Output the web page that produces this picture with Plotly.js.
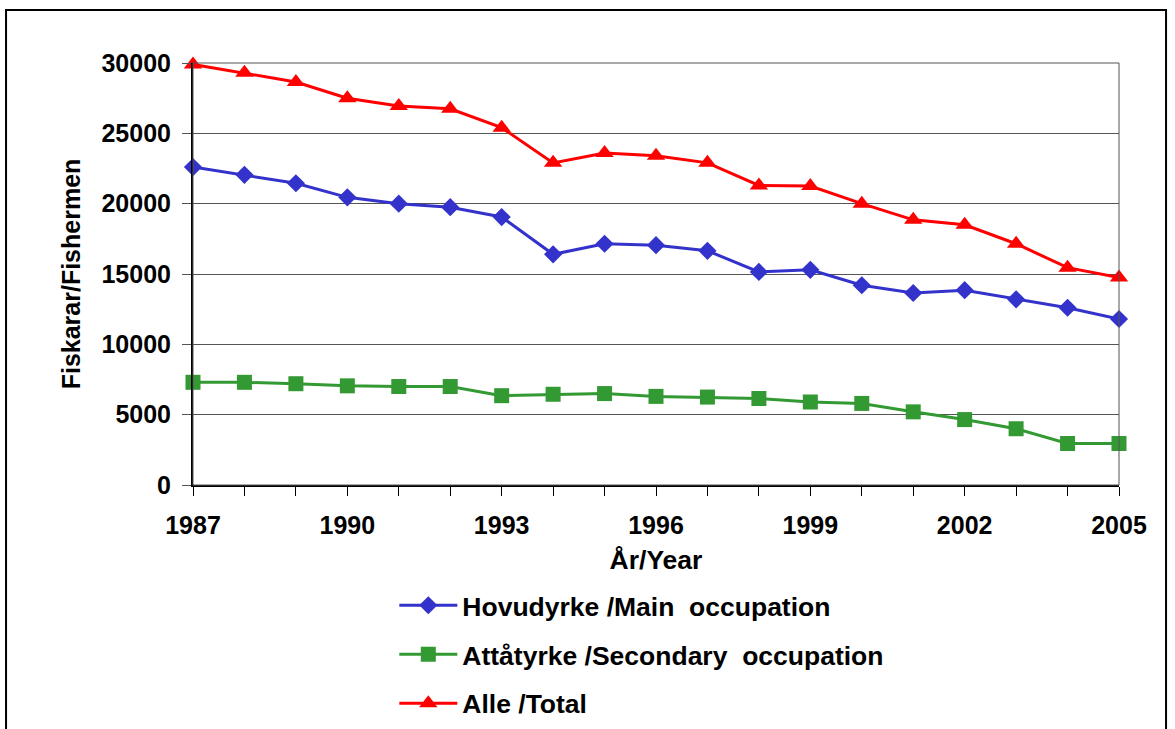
<!DOCTYPE html>
<html>
<head>
<meta charset="utf-8">
<script src="https://cdn.plot.ly/plotly-3.0.1.min.js"></script>
<style>html,body{margin:0;padding:0;background:#fff;}#chart{width:1175px;height:729px;}</style>
</head>
<body>
<div id="chart"></div>
<script>
const years = [1987,1988,1989,1990,1991,1992,1993,1994,1995,1996,1997,1998,1999,2000,2001,2002,2003,2004,2005];
const mainOccupation = [22600,22050,21450,20450,20000,19750,19050,16400,17150,17050,16650,15150,15300,14200,13650,13850,13200,12600,11800];
const secondaryOccupation = [7300,7300,7200,7050,7000,7000,6350,6450,6500,6300,6250,6150,5900,5800,5200,4650,4000,2950,2950];
const total = [29900,29300,28650,27500,26950,26750,25400,22900,23600,23400,22900,21300,21250,20000,18850,18500,17150,15450,14750];
const xTickVals = [1987,1990,1993,1996,1999,2002,2005];
const yTickVals = [0,5000,10000,15000,20000,25000,30000];

const fam = '"Liberation Sans", Arial, sans-serif';
const font = {family: fam, size: 25, color: '#000', weight: 'bold'};
const bigFont = {family: fam, size: 26.5, color: '#000', weight: 'bold'};

const traces = [
  {x: years, y: mainOccupation, name: 'Hovudyrke /Main \u00a0occupation', mode: 'lines+markers', legendgroup: 'a', cliponaxis: false,
   line: {color: '#3333CC', width: 3}, marker: {symbol: 'diamond', size: 14, color: '#3333CC'}},
  {x: years, y: secondaryOccupation, name: 'Attåtyrke /Secondary \u00a0occupation', mode: 'lines+markers', legendgroup: 'b', cliponaxis: false,
   line: {color: '#339933', width: 3}, marker: {symbol: 'square', size: 15, color: '#339933'}},
  {x: years, y: total, name: 'Alle /Total', mode: 'lines+markers', legendgroup: 'c', cliponaxis: false,
   line: {color: '#FF0000', width: 3}, marker: {symbol: 'triangle-up', size: 16, color: '#FF0000'}}
];

const layout = {
  width: 1175, height: 729,
  margin: {l: 193, r: 56, t: 63, b: 244, pad: 0, autoexpand: false},
  paper_bgcolor: '#fff', plot_bgcolor: '#fff',
  font: font,
  showlegend: true,
  legend: {x: 0.2174, y: -0.2287, xanchor: 'left', yanchor: 'top', font: bigFont, itemwidth: 58,
           bgcolor: 'rgba(0,0,0,0)', traceorder: 'grouped', tracegroupgap: 11.5},
  xaxis: {range: [1987, 2005], tickvals: xTickVals, ticktext: xTickVals.map(String), automargin: false,
          showgrid: false, zeroline: false, showline: true, linecolor: '#000', linewidth: 2,
          ticks: 'outside', ticklen: 9, tickcolor: '#000', tickwidth: 1, ticklabelstandoff: 8,
          minor: {dtick: 1, ticks: 'outside', ticklen: 9, tickcolor: '#000', showgrid: false},
          tickfont: font, title: {text: 'År/Year', font: bigFont, standoff: 12}},
  yaxis: {range: [0, 30000], tickvals: yTickVals, ticktext: yTickVals.map(String), automargin: false,
          showgrid: true, gridcolor: '#555', gridwidth: 1,
          zeroline: false, showline: true, linecolor: '#000', linewidth: 2,
          ticks: 'outside', ticklen: 9, tickcolor: '#555', tickwidth: 1, ticklabelstandoff: 6,
          tickfont: font, title: {text: 'Fiskarar/Fishermen', font: font, standoff: 14}},
  shapes: [
    {type: 'rect', xref: 'paper', yref: 'paper', x0: 0, x1: 1, y0: 0, y1: 1,
     line: {color: '#555', width: 1}},
    {type: 'rect', xref: 'paper', yref: 'paper', x0: -0.2019, x1: 1.0508, y0: -0.62, y1: 1.1256,
     line: {color: '#000', width: 2}}
  ]
};

Plotly.newPlot('chart', traces, layout, {displayModeBar: false, staticPlot: true});
</script>
</body>
</html>
